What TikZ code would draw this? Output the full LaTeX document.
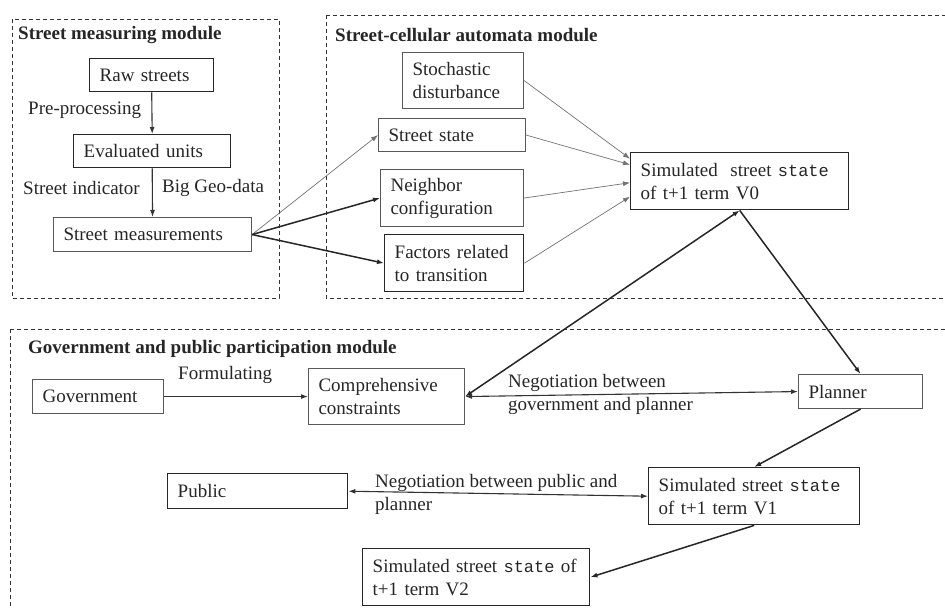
\documentclass[tikz,border=0pt]{standalone}
\usepackage{fontspec}
\setmainfont{Liberation Serif}
\setmonofont{Liberation Mono}
\usetikzlibrary{arrows.meta}
\newcommand{\stt}{{\fontsize{17}{23}\selectfont\ttfamily state}}
\begin{document}
\begin{tikzpicture}[x=1pt,y=-1pt,
  every node/.style={font=\fontsize{19}{23}\selectfont, text=black!85},
  box/.style={draw=black!85, line width=1.4pt, anchor=north west, inner xsep=10pt, inner ysep=0pt, align=left},
  lbox/.style={box, draw=black!65, line width=1.1pt},
  module/.style={draw=black!80, line width=1pt, dash pattern=on 4pt off 3pt},
  title/.style={anchor=west, inner sep=0pt, font=\fontsize{19}{23}\selectfont\bfseries},
  lbl/.style={anchor=west, inner sep=0pt, align=left},
  tip/.style={-{Latex[length=7pt,width=5pt]}},
  thin arrow/.style={tip, draw=black!55, line width=0.7pt},
  arrow/.style={tip, draw=black!80, line width=1.1pt},
  thick arrow/.style={tip, draw=black!85, line width=1.5pt}
]
\useasboundingbox (0,0) rectangle (945,608);
\fill[white] (0,0) rectangle (945,608);
\clip (0,0) rectangle (945,608);

% module frames
\draw[module] (12,19) rectangle (279,298);
\draw[module] (326,15) rectangle (955,298);
\draw[module] (10,329) rectangle (955,625);

\node[title] (t1) at (18,35) {Street measuring module};
\node[title] (t2) at (335,35) {Street-cellular automata module};
\node[title] (t3) at (28,349) {Government and public participation module};

% street measuring module
\node[box, minimum width=124pt, minimum height=33pt, text width=104pt] (raw) at (89,58) {Raw streets};
\node[box, minimum width=157pt, minimum height=33pt, text width=137pt] (eval) at (73,134) {Evaluated units};
\node[lbox, minimum width=198pt, minimum height=34pt, text width=178pt] (sm) at (53,217) {Street measurements};

\draw[arrow] (raw.south) -- (eval.north);
\draw[arrow] (eval.south) -- (sm.north);
\node[lbl] (pp) at (28,110) {Pre-processing};
\node[lbl] (si) at (23,188) {Street indicator};
\node[lbl] (bg) at (162,188) {Big Geo-data};

% street-cellular automata module
\node[lbox, minimum width=121pt, minimum height=56pt, text width=101pt] (sd) at (402,52) {Stochastic\\disturbance};
\node[lbox, minimum width=147pt, minimum height=33pt, text width=127pt] (ss) at (378,118) {Street state};
\node[lbox, minimum width=143pt, minimum height=57pt, text width=123pt] (nc) at (380,169) {Neighbor\\configuration};
\node[box, minimum width=139pt, minimum height=57pt, text width=119pt] (fr) at (384,234) {Factors related\\to transition};
\node[box, minimum width=218pt, minimum height=57pt, text width=198pt] (v0) at (630,152) {Simulated\ \ street \stt\\of t+1 term V0};

\draw[thin arrow] (sm.east) -- (ss.west);
\draw[thick arrow] (sm.east) -- (nc.west);
\draw[thick arrow] (sm.east) -- (fr.west);
\draw[thin arrow] (sd.east) -- ([yshift=22.5pt]v0.west);
\draw[thin arrow] (ss.east) -- ([yshift=16.5pt]v0.west);
\draw[thin arrow] (nc.east) -- ([yshift=-1.5pt]v0.west);
\draw[thin arrow] (fr.east) -- ([yshift=-15.5pt]v0.west);

% government and public participation module
\node[lbox, minimum width=131pt, minimum height=34pt, text width=111pt] (gov) at (32,379) {Government};
\node[lbox, minimum width=156pt, minimum height=56pt, text width=136pt] (cc) at (308,368) {Comprehensive\\constraints};
\node[lbox, minimum width=124pt, minimum height=34pt, text width=104pt] (pl) at (798,374) {Planner};
\node[box, minimum width=180pt, minimum height=35pt, text width=160pt] (pub) at (167,473) {Public};
\node[box, minimum width=211pt, minimum height=57pt, text width=191pt] (v1) at (648,467) {Simulated street \stt\\of t+1 term V1};
\node[box, minimum width=227pt, minimum height=57pt, text width=207pt] (v2) at (362,548) {Simulated street \stt{} of\\t+1 term V2};

\draw[arrow] (gov.east) -- (cc.west);
\node[lbl] (fm) at (178,375) {Formulating};
\draw[arrow, {Latex[length=7pt,width=5pt]}-{Latex[length=7pt,width=5pt]}] (cc.east) -- (pl.west);
\node[lbl] (ngp) at (508,394) {Negotiation between\\government and planner};
\draw[thick arrow, {Latex[length=7pt,width=5pt]}-{Latex[length=7pt,width=5pt]}] (cc.east) -- (v0.south);
\draw[thick arrow] (v0.south) -- (pl.north);
\draw[thick arrow] (pl.south) -- (v1.north);
\draw[arrow, {Latex[length=7pt,width=5pt]}-{Latex[length=7pt,width=5pt]}] (v1.west) -- (pub.east);
\node[lbl] (npp) at (375,494) {Negotiation between public and\\planner};
\draw[thick arrow] (v1.south) -- (v2.east);
\end{tikzpicture}
\end{document}
